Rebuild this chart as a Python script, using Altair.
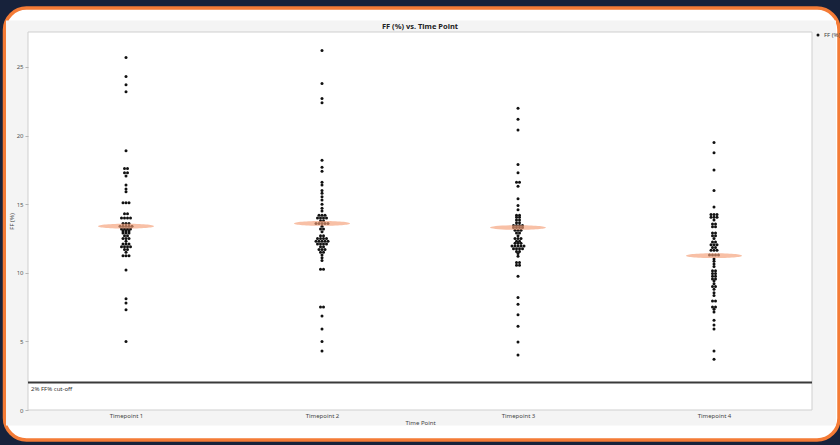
import altair as alt
import pandas as pd

# ---- data -------------------------------------------------------------
timepoints = ["Timepoint 1", "Timepoint 2", "Timepoint 3", "Timepoint 4"]

ff_tp1 = [25.7, 24.3, 23.7, 23.2, 18.9, 17.6, 17.6, 17.3, 17.3, 17.05,
          16.4, 16.1, 15.9, 15.1, 15.1, 15.1, 14.3, 14.3,
          14.0, 14.0, 14.0, 14.0, 13.6, 13.6, 13.6,
          13.4, 13.4, 13.4, 13.4, 13.4, 13.2, 13.2, 13.2, 13.2,
          13.05, 13.05, 13.05, 12.9, 12.9, 12.9, 12.7, 12.7,
          12.5, 12.5, 12.5, 12.3, 12.1, 12.1, 12.1,
          11.9, 11.9, 11.9, 11.9, 11.7, 11.7, 11.5,
          11.25, 11.25, 11.25, 10.2, 8.1, 7.8, 7.3, 5.0]

ff_tp2 = [26.2, 23.8, 22.7, 22.4, 18.2, 17.7, 17.4, 16.6, 16.4, 16.0,
          15.8, 15.55, 15.3, 15.0, 14.7, 14.5, 14.2, 14.2, 14.2,
          14.0, 14.0, 14.0, 14.0, 13.8, 13.8,
          13.6, 13.6, 13.6, 13.6, 13.6, 13.4, 13.2, 13.2, 13.0,
          12.7, 12.7, 12.5, 12.5, 12.5, 12.5,
          12.3, 12.3, 12.3, 12.3, 12.3, 12.1, 12.1, 12.1, 12.1,
          11.9, 11.9, 11.7, 11.7, 11.7, 11.5, 11.5, 11.3, 11.1, 10.9,
          10.25, 10.25, 7.5, 7.5, 6.85, 5.9, 5.0, 4.3]

ff_tp3 = [22.0, 21.2, 20.4, 17.9, 17.3, 16.6, 16.6, 16.3, 15.4, 14.9,
          14.6, 14.2, 14.2, 14.05, 14.05, 13.85, 13.85, 13.65, 13.65,
          13.45, 13.45, 13.45, 13.45, 13.3, 13.3, 13.3, 13.3,
          13.1, 13.1, 13.1, 12.9, 12.9, 12.7, 12.5, 12.5, 12.5,
          12.3, 12.3, 12.15, 12.15, 12.15,
          11.95, 11.95, 11.95, 11.95, 11.95, 11.75, 11.75, 11.75, 11.75,
          11.55, 11.55, 11.4, 11.2, 10.75, 10.75, 10.55, 10.55,
          9.75, 8.2, 7.7, 6.95, 6.1, 4.95, 4.0]

ff_tp4 = [19.5, 18.75, 17.5, 16.0, 14.8, 14.25, 14.25, 14.25,
          14.05, 14.05, 14.05, 13.85, 13.55, 13.55, 13.35, 13.35,
          12.9, 12.9, 12.7, 12.7, 12.5, 12.25, 12.25, 12.05, 12.05, 12.05,
          11.85, 11.85, 11.65, 11.65, 11.65, 11.3, 11.3, 11.3, 11.3,
          11.0, 10.85, 10.65, 10.45, 10.15, 10.15, 9.95, 9.95,
          9.75, 9.75, 9.55, 9.55, 9.4, 9.2, 9.0, 9.0, 8.8, 8.55, 8.35,
          7.95, 7.95, 7.5, 7.5, 7.35, 7.15, 6.55, 6.2, 5.9, 4.3, 3.7]

group_means = [13.4, 13.6, 13.3, 11.25]
cutoff_value = 2
cutoff_label = "2% FF% cut-off"
series_name = "FF (%)"
chart_title = "FF (%) vs. Time Point"
y_major = [0, 5, 10, 15, 20, 25]
y_minor = [2.5, 7.5, 12.5, 17.5, 22.5]

# ---- layout -----------------------------------------------------------
W, H = 784, 378
PAD = {"left": 28, "top": 32, "right": 28, "bottom": 35}
Y_MAX = 27.55
FONT = "Noto Sans"
px_per_cat = W / len(timepoints)
dot_gap = 3.0

# stack equal values side by side (dot-plot style)
rows = []
for i, (name, vals) in enumerate(zip(timepoints, [ff_tp1, ff_tp2, ff_tp3, ff_tp4])):
    counts = {}
    for v in vals:
        counts[v] = counts.get(v, 0) + 1
    for v, n in counts.items():
        for k in range(n):
            off = (k - (n - 1) / 2) * dot_gap / px_per_cat
            rows.append({"tp": name, "pos": i + 1 + off, "ff": v, "series": series_name})
points_df = pd.DataFrame(rows)

means_df = pd.DataFrame({"tp": timepoints,
                         "pos": list(range(1, len(timepoints) + 1)),
                         "mean": group_means})
cut_df = pd.DataFrame({"ff": [cutoff_value], "label": [cutoff_label]})
one = pd.DataFrame({"k": [0]})
title_df = pd.DataFrame({"t": [chart_title]})

label_expr = "[" + ",".join(f"'{t}'" for t in timepoints) + "][datum.value - 1]"

x_scale = alt.Scale(domain=[0.5, len(timepoints) + 0.5], nice=False, zero=False)
y_scale = alt.Scale(domain=[0, Y_MAX], nice=False, zero=False)

x_axis = alt.Axis(values=list(range(1, len(timepoints) + 1)), labelExpr=label_expr,
                  title="Time Point", grid=False, domain=False, ticks=False,
                  labelPadding=2, labelFontSize=6, labelColor="#444", labelFont=FONT,
                  titleFontSize=6, titleColor="#444", titleFont=FONT,
                  titleFontWeight="normal", titlePadding=1, zindex=1)
y_axis = alt.Axis(values=y_major + y_minor,
                  labelExpr="datum.value % 5 == 0 ? datum.label : ''",
                  title="FF (%)", grid=False, domain=False, tickSize=3,
                  tickColor="#b5b5b5", labelPadding=2, labelFontSize=6,
                  labelColor="#555", labelFont=FONT, titleFontSize=6,
                  titleColor="#444", titleFont=FONT, titleFontWeight="normal",
                  titlePadding=2, zindex=1)

# ---- frame: rounded card, grey panel, white plot area ----------------
card = alt.Chart(one).mark_rect(
    fill="white", stroke="#f47b36", strokeWidth=3.5, cornerRadius=22
).encode(x=alt.value(-23.5), x2=alt.value(811), y=alt.value(-24), y2=alt.value(408))

panel = alt.Chart(one).mark_rect(fill="#f4f4f4").encode(
    x=alt.value(-22), x2=alt.value(808), y=alt.value(-11.5), y2=alt.value(393.5))

plot_bg = alt.Chart(one).mark_rect(fill="white", stroke="#cfcfcf", strokeWidth=1).encode(
    x=alt.value(0), x2=alt.value(W), y=alt.value(0), y2=alt.value(H))

title_text = alt.Chart(title_df).mark_text(
    align="center", baseline="middle", fontSize=7.5, fontWeight="bold",
    color="#222", font=FONT
).encode(x=alt.value(W / 2), y=alt.value(-5), text="t:N")

# ---- data layers -----------------------------------------------------
dots = alt.Chart(points_df).mark_circle(size=9, opacity=1).encode(
    x=alt.X("pos:Q", scale=x_scale, axis=x_axis),
    y=alt.Y("ff:Q", scale=y_scale, axis=y_axis),
    color=alt.Color("series:N", scale=alt.Scale(range=["#111111"]),
                    legend=alt.Legend(orient="none", legendX=787, legendY=0,
                                      title=None, labelFontSize=6, labelColor="#444",
                                      labelFont=FONT, symbolSize=9, symbolType="circle",
                                      padding=0, labelOffset=3, zindex=1)),
)

ellipse_path = "M-1,0A1,0.085 0 1,0 1,0A1,0.085 0 1,0 -1,0Z"
means = alt.Chart(means_df).mark_point(
    shape=ellipse_path, filled=True, size=3136, opacity=0.65, strokeWidth=0
).encode(
    x=alt.X("pos:Q", scale=x_scale),
    y=alt.Y("mean:Q", scale=y_scale),
    color=alt.value("#f59e76"),
)

cut_line = alt.Chart(cut_df).mark_rule(color="#3a3a3a", strokeWidth=2).encode(
    y=alt.Y("ff:Q", scale=y_scale), x=alt.value(0), x2=alt.value(W))

cut_text = alt.Chart(cut_df).mark_text(
    align="left", baseline="top", dx=0, dy=3, fontSize=6, color="#333", font=FONT
).encode(y=alt.Y("ff:Q", scale=y_scale), x=alt.value(3), text="label:N")

chart = alt.layer(card, panel, plot_bg, title_text, dots, means, cut_line, cut_text).properties(
    width=W, height=H, padding=PAD,
    autosize=alt.AutoSizeParams(type="none"),
    background="#17223b",
).configure_view(stroke="transparent")

chart.save("out.html", embed_options={"renderer": "svg", "actions": False})
